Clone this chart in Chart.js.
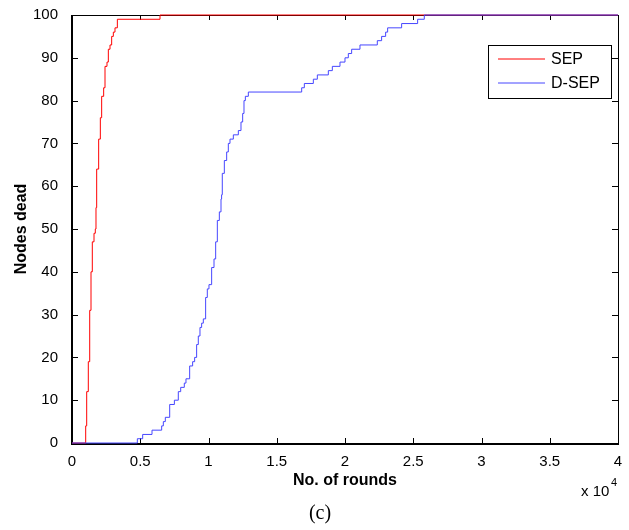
<!DOCTYPE html>
<html>
<head>
<meta charset="utf-8">
<script src="https://cdn.jsdelivr.net/npm/chart.js@4"></script>
<style>
  html, body { margin: 0; padding: 0; background: #fff; }
  #grafico { display: block; }
</style>
</head>
<body>
<canvas id="grafico" width="629" height="530"></canvas>
<script>
// rounds at which the count of dead nodes steps up, and the new count
const roundsSEP = [0, 1003, 1077, 1194, 1297, 1392, 1487, 1612, 1707, 1758, 1808, 1953, 2076, 2173, 2320, 2418, 2564, 2662, 2784, 2906, 3028, 3150, 3322, 6447, 40000];
const deadSEP = [0, 4, 12, 19, 31, 40, 47, 49, 50, 55, 64, 71, 76, 81, 83, 88, 89, 92, 93, 95, 96, 97, 99, 100, 100];

const roundsDSEP = [0, 4786, 5177, 5861, 6569, 6691, 6837, 7157, 7500, 7788, 7963, 8227, 8350, 8620, 8838, 8985, 9131, 9253, 9375, 9497, 9620, 9790, 9912, 10035, 10231, 10403, 10525, 10647, 10794, 10916, 10960, 11010, 11160, 11331, 11452, 11575, 11819, 12186, 12380, 12503, 12600, 12700, 12918, 16826, 17021, 17680, 17973, 18779, 19072, 19633, 19999, 20243, 20487, 21097, 22367, 22683, 22977, 23123, 24149, 25321, 25809, 40000];
const deadDSEP = [0, 1, 2, 3, 4, 5, 6, 9, 10, 12, 13, 14, 15, 18, 19, 20, 23, 25, 27, 28, 29, 34, 36, 37, 41, 43, 47, 52, 54, 57, 58, 63, 66, 68, 70, 71, 72, 73, 75, 77, 80, 81, 82, 83, 84, 85, 86, 87, 88, 89, 90, 91, 92, 93, 94, 95, 96, 97, 98, 99, 100, 100];

const seriesNames = ['SEP', 'D-SEP'];
const seriesColors = ['#ff0000', '#4646ff'];

const xTicks = [0, 5000, 10000, 15000, 20000, 25000, 30000, 35000, 40000];
const yTicks = [0, 10, 20, 30, 40, 50, 60, 70, 80, 90, 100];

const FONT = 'Liberation Sans, Arial, sans-serif';

const toPoints = (xs, ys) => xs.map((x, i) => ({ x: x, y: ys[i] }));

// caja, marcas hacia dentro, leyenda y textos extra (estilo MATLAB)
const matlabAxes = {
    id: 'matlabAxes',
    beforeDatasetsDraw(chart) {
        const { ctx, chartArea: a, scales } = chart;
        ctx.save();
        ctx.strokeStyle = '#000';
        ctx.lineWidth = 1;
        ctx.beginPath();
        scales.x.ticks.forEach(t => {
            const px = Math.round(scales.x.getPixelForValue(t.value)) + 0.5;
            ctx.moveTo(px, a.top); ctx.lineTo(px, a.top + 5);
            ctx.moveTo(px, a.bottom); ctx.lineTo(px, a.bottom - 5);
        });
        scales.y.ticks.forEach(t => {
            const py = Math.round(scales.y.getPixelForValue(t.value)) + 0.5;
            ctx.moveTo(a.left, py); ctx.lineTo(a.left + 6, py);
            ctx.moveTo(a.right, py); ctx.lineTo(a.right - 6, py);
        });
        ctx.stroke();
        // box
        ctx.strokeRect(a.left + 0.5, a.top + 0.5, a.right - a.left, a.bottom - a.top);
        ctx.lineWidth = 2;
        ctx.beginPath();
        ctx.moveTo(a.left, a.top); ctx.lineTo(a.left, a.bottom + 1);
        ctx.lineTo(a.right + 1, a.bottom + 1);
        ctx.stroke();
        ctx.restore();
    },
    afterDraw(chart) {
        const { ctx } = chart;
        ctx.save();
        // legend
        ctx.fillStyle = '#fff';
        ctx.fillRect(488, 45, 124, 53);
        ctx.strokeStyle = '#000';
        ctx.lineWidth = 1;
        ctx.strokeRect(488.5, 45.5, 123, 53);
        chart.data.datasets.forEach((ds, i) => {
            const y = 59 + i * 24;
            ctx.strokeStyle = ds.borderColor;
            ctx.beginPath();
            ctx.moveTo(498, y); ctx.lineTo(545, y);
            ctx.stroke();
            ctx.fillStyle = '#000';
            ctx.font = '16px ' + FONT;
            ctx.textAlign = 'left';
            ctx.textBaseline = 'middle';
            ctx.fillText(ds.label, 551, y + 1);
        });
        // exponent of x axis
        ctx.fillStyle = '#000';
        ctx.font = '15px ' + FONT;
        ctx.textAlign = 'left';
        ctx.textBaseline = 'middle';
        ctx.fillText('x 10', 581, 492);
        ctx.font = '11px ' + FONT;
        ctx.fillText('4', 611, 483);
        // caption
        ctx.font = '20px Liberation Serif, Times New Roman, serif';
        ctx.textAlign = 'center';
        ctx.fillText('(c)', 320, 514);
        ctx.restore();
    }
};

const ctx = document.getElementById('grafico').getContext('2d');

window.miGrafico = new Chart(ctx, {
    type: 'line',
    data: {
        datasets: [
            {
                label: seriesNames[0],
                data: toPoints(roundsSEP, deadSEP),
                borderColor: seriesColors[0],
                borderWidth: 1,
                pointRadius: 0,
                stepped: 'before',
                clip: false,
                order: 1
            },
            {
                label: seriesNames[1],
                data: toPoints(roundsDSEP, deadDSEP),
                borderColor: seriesColors[1],
                borderWidth: 1,
                pointRadius: 0,
                stepped: 'before',
                clip: false,
                order: 0
            }
        ]
    },
    options: {
        responsive: false,
        animation: false,
        layout: {
            padding: { top: 14, right: 11, left: 0, bottom: 0 }
        },
        plugins: {
            legend: { display: false },
            tooltip: { enabled: false }
        },
        scales: {
            x: {
                type: 'linear',
                min: 0,
                max: 40000,
                afterFit: s => { s.height = 87; },
                afterBuildTicks: s => { s.ticks = xTicks.map(v => ({ value: v })); },
                ticks: {
                    color: '#000',
                    padding: 2,
                    maxRotation: 0,
                    font: { family: FONT, size: 15 },
                    callback: v => String(v / 10000)
                },
                grid: { display: false },
                border: { display: false },
                title: {
                    display: true,
                    text: 'No. of rounds',
                    color: '#000',
                    font: { family: FONT, size: 16, weight: 'bold' },
                    padding: { top: 0, bottom: 40 }
                }
            },
            y: {
                min: 0,
                max: 100,
                afterFit: s => { s.width = 72; },
                afterBuildTicks: s => { s.ticks = yTicks.map(v => ({ value: v })); },
                ticks: {
                    color: '#000',
                    padding: 6,
                    font: { family: FONT, size: 15 }
                },
                grid: { display: false },
                border: { display: false },
                title: {
                    display: true,
                    text: 'Nodes dead',
                    color: '#000',
                    font: { family: FONT, size: 16, weight: 'bold' },
                    padding: { top: 12, bottom: 0 }
                }
            }
        }
    },
    plugins: [matlabAxes]
});
</script>
</body>
</html>
